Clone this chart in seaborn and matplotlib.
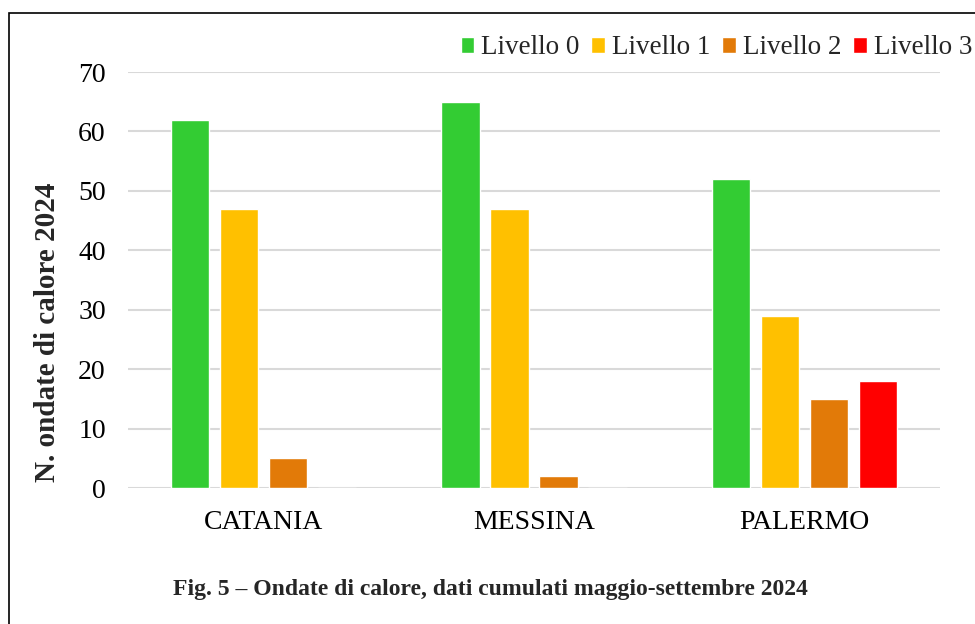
"""Ondate di calore 2024 - barre raggruppate per citta e livello."""

import matplotlib.pyplot as plt
import pandas as pd
import seaborn as sns
from matplotlib.patches import Rectangle

citta = ["CATANIA", "MESSINA", "PALERMO"]
livelli = ["Livello 0", "Livello 1", "Livello 2", "Livello 3"]
livello_0 = [62, 65, 52]
livello_1 = [47, 47, 29]
livello_2 = [5, 2, 15]
livello_3 = [0, 0, 18]
colori = ["#33CC33", "#FFC000", "#E27A08", "#FF0000"]

df = pd.DataFrame({"citta": citta, "Livello 0": livello_0, "Livello 1": livello_1,
                   "Livello 2": livello_2, "Livello 3": livello_3})
df = df.melt(id_vars="citta", var_name="livello", value_name="n")

sns.set_theme(style="white")
plt.rcParams["font.family"] = ["Liberation Serif", "DejaVu Serif"]

fig = plt.figure(figsize=(9.75, 6.24), dpi=100)
ax = fig.add_axes([128 / 975, 1 - 488 / 624, 812 / 975, 416 / 624])

sns.barplot(data=df, x="citta", y="n", hue="livello", hue_order=livelli,
            palette=colori, width=0.724, gap=0.22, saturation=1, ax=ax)

ax.set_ylim(0, 70)
ax.set_yticks(range(0, 71, 10))
ax.set_xlim(-0.5, 2.5)
ax.grid(axis="y", color="#d9d9d9", linewidth=1.5)
ax.set_axisbelow(True)
for s in ax.spines.values():
    s.set_visible(False)
ax.tick_params(axis="both", length=0, labelsize=20, colors="#000000")
ax.tick_params(axis="y", pad=16)
ax.tick_params(axis="x", pad=16)
ax.set_xlabel("")
ax.set_ylabel("N. ondate di calore 2024", fontsize=21, fontweight="bold")
ax.yaxis.set_label_coords(-0.082, 0.375)

ax.legend(loc="center right", bbox_to_anchor=(1 - 3 / 975, 1 - 48 / 624),
          bbox_transform=fig.transFigure, ncol=4, frameon=False, fontsize=19.5,
          handlelength=0.5, handleheight=0.5, handletextpad=0.25,
          columnspacing=0.45, borderaxespad=0, borderpad=0)

fig.text(490 / 975, 1 - 590 / 624,
         "Fig. 5 – Ondate di calore, dati cumulati maggio-settembre 2024",
         ha="center", va="center", fontsize=17, fontweight="bold")

# cornice del riquadro
fig.patches.append(Rectangle((9 / 975, -0.1), 1.1, 0.1 + 1 - 13 / 624,
                             transform=fig.transFigure, fill=False,
                             edgecolor="black", linewidth=1.2))

fig.savefig("out.png", dpi=100)
plt.close(fig)
